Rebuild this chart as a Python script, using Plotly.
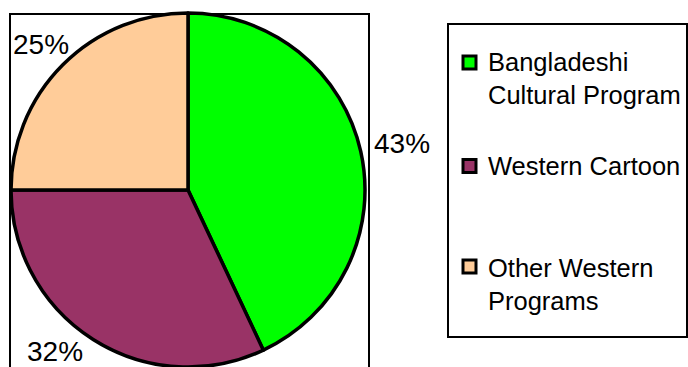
import plotly.graph_objects as go

# ---- data ----
categories = ["Bangladeshi Cultural Program", "Western Cartoon", "Other Western Programs"]
legend_labels = ["Bangladeshi<br>Cultural Program", "Western Cartoon", "Other Western<br>Programs"]
values = [43, 32, 25]
colors = ["#00FF00", "#993366", "#FFCC99"]

W, H = 688, 367


def px(x):
    return x / W


def py(y):
    return 1 - y / H


FONT = "Arial, 'Liberation Sans', sans-serif"

# pie geometry (pixels)
cx = 188
top = 13

fig = go.Figure(
    go.Pie(
        labels=categories,
        values=values,
        marker=dict(colors=colors, line=dict(color="black", width=3.5)),
        sort=False,
        direction="clockwise",
        rotation=0,
        textinfo="none",
        hoverinfo="label+percent",
        showlegend=False,
        domain=dict(x=[px(cx - 179), px(cx + 179)], y=[0, py(top)]),
    )
)

shapes = []
annotations = []

# plot-area frame
shapes.append(dict(type="rect", xref="paper", yref="paper",
                   x0=px(10), x1=px(369), y0=-0.1, y1=py(14),
                   line=dict(color="black", width=2), fillcolor="rgba(0,0,0,0)", layer="above"))

# percentage labels
label_pos = [(402, 143), (55, 351), (41, 44)]
for v, (lx, ly) in zip(values, label_pos):
    annotations.append(dict(xref="paper", yref="paper", x=px(lx), y=py(ly),
                            text=f"{v}%", showarrow=False, xanchor="center", yanchor="middle",
                            font=dict(family=FONT, size=28, color="black")))

# legend box
shapes.append(dict(type="rect", xref="paper", yref="paper",
                   x0=px(448), x1=px(687), y0=py(337), y1=py(24),
                   line=dict(color="black", width=2), fillcolor="white", layer="below"))

swatch_cy = [62.5, 166, 266.5]
text_cy = [78, 166, 284]
for lab, col, sy, ty in zip(legend_labels, colors, swatch_cy, text_cy):
    shapes.append(dict(type="rect", xref="paper", yref="paper",
                       x0=px(463), x1=px(476), y0=py(sy + 6.5), y1=py(sy - 6.5),
                       line=dict(color="black", width=3), fillcolor=col, layer="above"))
    annotations.append(dict(xref="paper", yref="paper", x=px(486), y=py(ty),
                            text=lab, showarrow=False, xanchor="left", yanchor="middle",
                            align="left",
                            font=dict(family=FONT, size=25.5, color="black")))

fig.update_layout(
    width=W, height=H,
    margin=dict(l=0, r=0, t=0, b=0),
    paper_bgcolor="white",
    plot_bgcolor="white",
    shapes=shapes,
    annotations=annotations,
)

fig.write_html("out.html")
